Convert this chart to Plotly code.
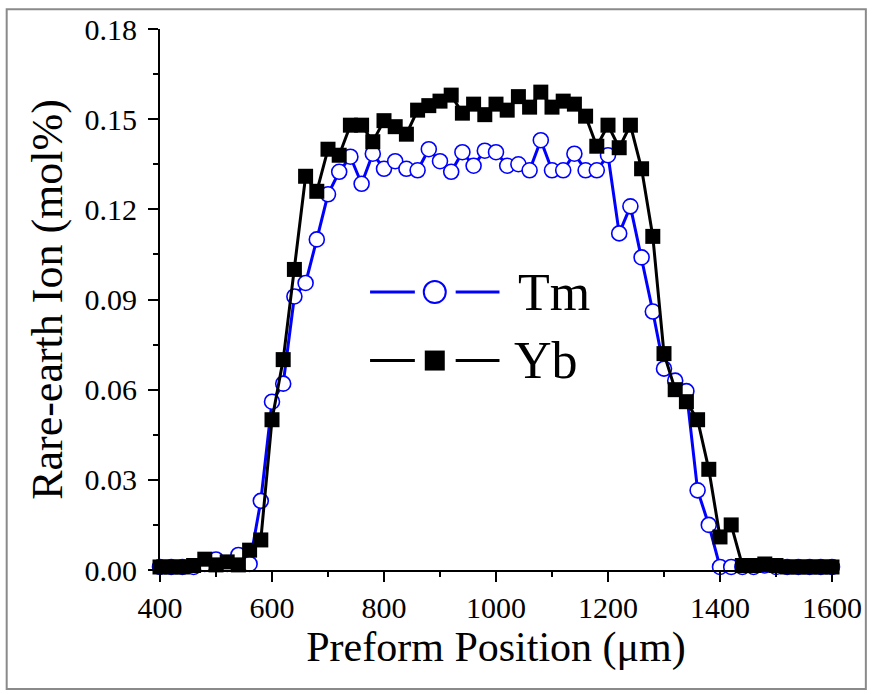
import plotly.graph_objects as go

# ---------------- data ----------------
position_um = [400, 420, 440, 460, 480, 500, 520, 540, 560, 580,
               600, 620, 640, 660, 680, 700, 720, 740, 760, 780,
               800, 820, 840, 860, 880, 900, 920, 940, 960, 980,
               1000, 1020, 1040, 1060, 1080, 1100, 1120, 1140, 1160, 1180,
               1200, 1220, 1240, 1260, 1280, 1300, 1320, 1340, 1360, 1380,
               1400, 1420, 1440, 1460, 1480, 1500, 1520, 1540, 1560, 1580, 1600]

tm_mol = [0.001, 0.001, 0.001, 0.001, 0.002, 0.0035, 0.002, 0.005, 0.002, 0.023,
          0.056, 0.062, 0.091, 0.0955, 0.110, 0.125, 0.1325, 0.1375, 0.1285, 0.1385,
          0.1335, 0.136, 0.1335, 0.133, 0.140, 0.136, 0.1325, 0.139, 0.1345, 0.1395,
          0.139, 0.1345, 0.135, 0.133, 0.143, 0.133, 0.133, 0.1385, 0.133, 0.133,
          0.138, 0.112, 0.121, 0.104, 0.086, 0.067, 0.063, 0.0595, 0.0265, 0.015,
          0.001, 0.001, 0.001, 0.001, 0.0015, 0.001, 0.001, 0.001, 0.001, 0.001, 0.001]

yb_mol = [0.001, 0.001, 0.001, 0.0015, 0.0036, 0.0017, 0.0027, 0.0017, 0.0066, 0.010,
          0.050, 0.070, 0.100, 0.131, 0.126, 0.140, 0.138, 0.148, 0.148, 0.1425,
          0.1495, 0.1475, 0.145, 0.153, 0.1545, 0.156, 0.158, 0.152, 0.155, 0.1515,
          0.155, 0.153, 0.1575, 0.154, 0.159, 0.154, 0.156, 0.155, 0.151, 0.141,
          0.148, 0.1405, 0.148, 0.1335, 0.111, 0.072, 0.060, 0.056, 0.050, 0.0335,
          0.011, 0.015, 0.0015, 0.0015, 0.002, 0.0015, 0.001, 0.001, 0.001, 0.001, 0.001]

series_names = ["Tm", "Yb"]
x_title = "Preform Position (μm)"
y_title = "Rare-earth Ion (mol%)"

# ---------------- figure ----------------
FONT = "Liberation Serif"
W, H = 874, 694
L, R, T, B = 160, 39, 25, 124
PW, PH = W - L - R, H - T - B

fig = go.Figure()
fig.add_trace(go.Scatter(
    x=position_um, y=tm_mol, name=series_names[0], mode="lines+markers",
    line=dict(color="#0000ff", width=3),
    marker=dict(symbol="circle", size=15, color="white",
                line=dict(color="#0000ff", width=1.6)),
    cliponaxis=False, showlegend=False))
fig.add_trace(go.Scatter(
    x=position_um, y=yb_mol, name=series_names[1], mode="lines+markers",
    line=dict(color="black", width=3),
    marker=dict(symbol="square", size=15, color="black",
                line=dict(color="black", width=0)),
    cliponaxis=False, showlegend=False))

axis_common = dict(showline=True, linecolor="black", linewidth=2,
                   ticks="outside", ticklen=10, tickwidth=2, tickcolor="black",
                   showgrid=False, zeroline=False, mirror=False,
                   tickfont=dict(family=FONT, size=30, color="black"))

fig.update_xaxes(range=[400, 1600], dtick=200, tick0=400,
                 minor=dict(dtick=100, ticklen=5, tickwidth=2, tickcolor="black", ticks="outside"),
                 title=dict(text=x_title, font=dict(family=FONT, size=42, color="black"), standoff=8),
                 **axis_common)
fig.update_yaxes(range=[0, 0.18], dtick=0.03, tick0=0, tickformat=".2f",
                 ticklabelstandoff=5,
                 minor=dict(dtick=0.015, ticklen=5, tickwidth=2, tickcolor="black", ticks="outside"),
                 title=dict(text=y_title, font=dict(family=FONT, size=44, color="black"), standoff=8),
                 **axis_common)

def px(xp):
    return (xp - L) / PW

def py(yp):
    return (T + PH - yp) / PH

shapes = []
# outer frame of the picture
shapes.append(dict(type="rect", xref="paper", yref="paper",
                   x0=px(6), x1=px(869), y0=py(5), y1=py(690),
                   line=dict(color="#8a8a8a", width=2), fillcolor="rgba(0,0,0,0)", layer="below"))

# hand-drawn legend (long line segments like the original)
rows = [(290, "#0000ff", "circle"), (359, "black", "square")]
for yp, col, sym in rows:
    for a, b in [(371, 416), (457, 501)]:
        shapes.append(dict(type="line", xref="paper", yref="paper",
                           x0=px(a), x1=px(b), y0=py(yp), y1=py(yp),
                           line=dict(color=col, width=3)))
    if sym == "circle":
        shapes.append(dict(type="circle", xref="paper", yref="paper",
                           xsizemode="pixel", ysizemode="pixel",
                           xanchor=px(436), yanchor=py(yp),
                           x0=-11, x1=11, y0=-11, y1=11,
                           line=dict(color=col, width=2), fillcolor="white"))
    else:
        shapes.append(dict(type="rect", xref="paper", yref="paper",
                           xsizemode="pixel", ysizemode="pixel",
                           xanchor=px(436), yanchor=py(yp),
                           x0=-10, x1=10, y0=-10, y1=10,
                           line=dict(color=col, width=0), fillcolor=col))

annotations = []
for (yp, col, sym), name, xl in zip(rows, series_names, [518, 514]):
    annotations.append(dict(text=name, xref="paper", yref="paper",
                            x=px(xl), y=py(yp), xanchor="left", yanchor="middle",
                            showarrow=False,
                            font=dict(family=FONT, size=52, color="black")))

fig.update_layout(width=W, height=H, margin=dict(l=L, r=R, t=T, b=B, pad=0),
                  paper_bgcolor="white", plot_bgcolor="white",
                  font=dict(family=FONT, color="black"),
                  shapes=shapes, annotations=annotations, showlegend=False)

fig.write_html("out.html", config={"displayModeBar": False},
               post_script="document.body.style.margin='0';document.body.style.padding='0';")
